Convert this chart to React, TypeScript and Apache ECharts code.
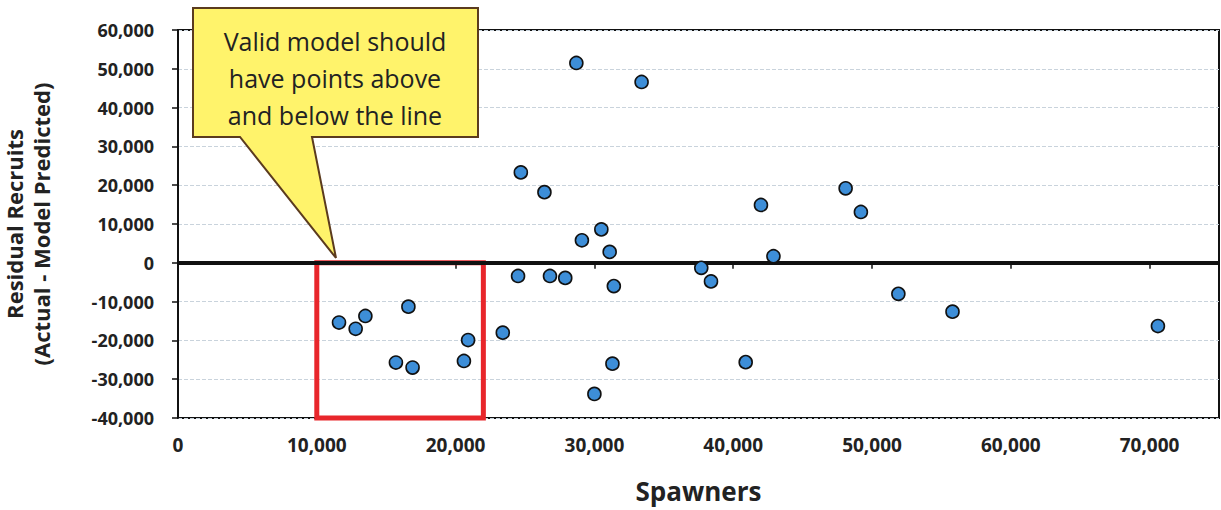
import React, { useEffect, useRef } from "react";
import * as echarts from "echarts";

const spawners = [11600, 12800, 13500, 16600, 15700, 16900, 20900, 20600, 28700, 33400, 24700, 26400, 48100, 49200, 42000, 30500, 29100, 31100, 42900, 37700, 38400, 24500, 26800, 27900, 31400, 23400, 31300, 30000, 40900, 51900, 55800, 70600];
const residuals = [-15400, -17000, -13700, -11300, -25700, -27000, -19900, -25300, 51500, 46600, 23300, 18200, 19200, 13100, 14900, 8600, 5800, 2800, 1700, -1300, -4800, -3400, -3400, -3900, -6000, -18000, -26000, -33800, -25600, -8000, -12600, -16300];
const calloutLines = ["Valid model should", "have points above", "and below the line"];
const boxRange = [10000, 22000];
const xAxisName = "Spawners";
const yAxisName = "Residual Recruits\n(Actual - Model Predicted)";

const fmt = (v: number) => v.toLocaleString("en-US");

export default function App() {
  const ref = useRef<HTMLDivElement>(null);
  useEffect(() => {
    const chart = echarts.init(ref.current!, null, { renderer: "svg" });
    const font = "'Open Sans', sans-serif";
    chart.setOption({
      animation: false,
      backgroundColor: "#fff",
      grid: { left: 178, right: 2, top: 30, bottom: 92, show: true, borderColor: "#111", borderWidth: 2, backgroundColor: "transparent", containLabel: false, outerBoundsMode: "none" },
      xAxis: {
        type: "value", min: 0, max: 75000, interval: 10000,
        name: xAxisName, nameLocation: "middle", nameGap: 60,
        nameTextStyle: { fontFamily: font, fontWeight: "bold", fontSize: 26, color: "#222" },
        axisLine: { show: true, lineStyle: { color: "#111", width: 2 } },
        axisTick: { show: true, length: 6, lineStyle: { color: "#111", width: 1.5 } },
        axisLabel: { fontFamily: font, fontWeight: "bold", fontSize: 19, color: "#222", margin: 17, formatter: (v: number) => (v > 70000 ? "" : fmt(v)) },
        splitLine: { show: false },
      },
      yAxis: {
        type: "value", min: -40000, max: 60000, interval: 10000,
        name: yAxisName, nameLocation: "middle", nameGap: 124, nameRotate: 90,
        nameTextStyle: { fontFamily: font, fontWeight: "bold", fontSize: 22, color: "#222", lineHeight: 27 },
        axisLine: { show: true, lineStyle: { color: "#111", width: 2 } },
        axisTick: { show: true, length: 6, lineStyle: { color: "#111", width: 1.5 } },
        axisLabel: { fontFamily: font, fontWeight: "bold", fontSize: 18, color: "#222", margin: 24, formatter: fmt },
        splitLine: { show: true, lineStyle: { color: "#c9d3dc", type: "dashed", width: 1 } },
      },
      series: [
        {
          type: "scatter",
          data: spawners.map((x, i) => [x, residuals[i]]),
          symbol: "circle",
          symbolSize: 13,
          itemStyle: { color: "#3d8ed8", borderColor: "#111", borderWidth: 1.6, opacity: 1 },
          z: 5,
          markLine: {
            silent: true, symbol: "none", label: { show: false },
            lineStyle: { color: "#111", width: 4, type: "solid" },
            data: [{ yAxis: 0 }],
          },
          markArea: {
            silent: true,
            itemStyle: { color: "rgba(0,0,0,0)", borderColor: "#e8262b", borderWidth: 5 },
            data: [[{ xAxis: boxRange[0], yAxis: 0 }, { xAxis: boxRange[1], yAxis: -40000 }]],
          },
        },
      ],
      graphic: [
        {
          type: "polygon", z: 100,
          shape: { points: [[193, 8], [478, 8], [478, 137], [312, 137], [336, 258], [240, 137], [193, 137]] },
          style: { fill: "#fff36b", stroke: "#5b3b1e", lineWidth: 2 },
        },
        ...calloutLines.map((t, i) => ({
          type: "text", z: 101, x: 335, y: 41 + i * 37,
          style: { text: t, fontFamily: font, fontSize: 25, fill: "#222", align: "center", verticalAlign: "middle" },
        })),
      ],
    });
    return () => chart.dispose();
  }, []);
  return <div ref={ref} style={{ position: "fixed", left: 0, top: 0, width: 1221, height: 510 }} />;
}
